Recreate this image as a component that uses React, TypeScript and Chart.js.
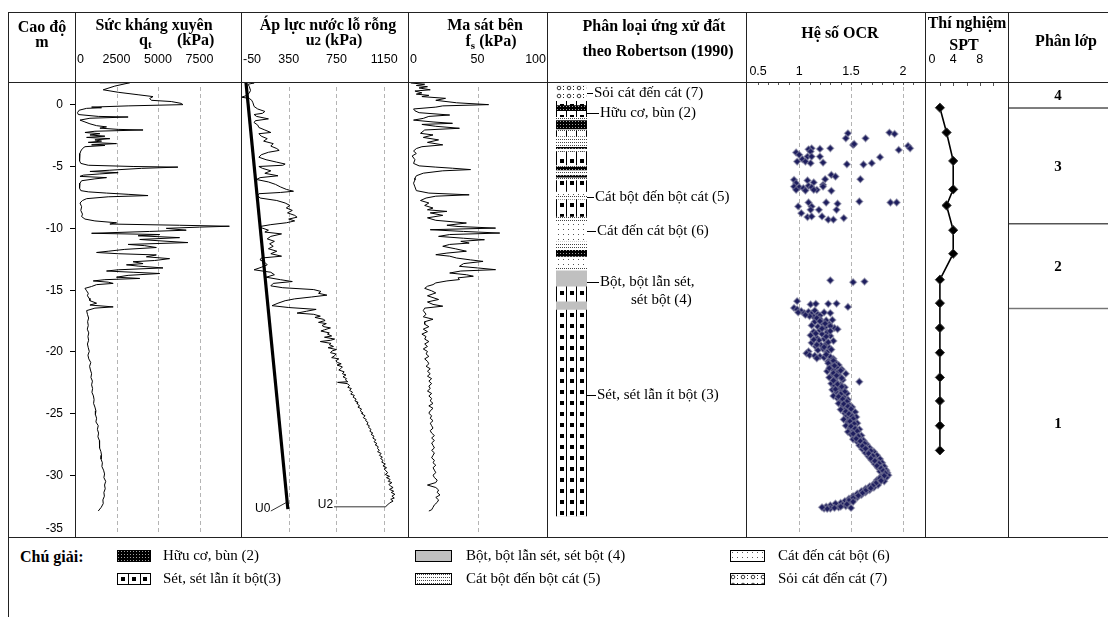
import React, { useEffect, useRef } from "react";
import { Chart, registerables } from "chart.js";
Chart.register(...registerables);

// ---------------- data ----------------
const depthRange = [-35, 1.78];
const depthTicks = [0, -5, -10, -15, -20, -25, -30, -35];

const qtRange = [0, 10000];
const qtTicks = [0, 2500, 5000, 7500];
const u2Range = [-50, 1350];
const u2Ticks = [-50, 350, 750, 1150];
const fsRange = [0, 100];
const fsTicks = [0, 50, 100];
const ocrRange = [0.5, 2.2];
const ocrTicks = [0.5, 1, 1.5, 2];
const ocrMinorTicks = [0.6, 0.7, 0.8, 0.9, 1, 1.1, 1.2, 1.3, 1.4, 1.5, 1.6, 1.7, 1.8, 1.9, 2, 2.1];
const sptRange = [0, 12];
const sptTicks = [0, 4, 8];
const sptMinorTicks = [2, 4, 6, 8, 10];

// [depth (m), qt (kPa)]
const qtData = [
  [1.72, 1500], [1.72, 3300], [1.45, 2400], [1.15, 1700], [0.95, 2600], [0.75, 3800], [0.6, 4700], [0.45, 4500],
  [0.3, 4600], [0.2, 5800], [0.05, 6400], [-0.05, 6500], [-0.15, 3200], [-0.25, 1000], [-0.3, 1600], [-0.35, 700],
  [-0.5, 250], [-0.7, 150], [-0.85, 200], [-1.0, 1400], [-1.05, 3200], [-1.15, 900], [-1.3, 300], [-1.45, 600],
  [-1.6, 900], [-1.75, 1300], [-1.85, 1900], [-1.95, 1500], [-2.05, 2600], [-2.1, 4100], [-2.2, 1200], [-2.3, 600],
  [-2.4, 1500], [-2.5, 900], [-2.6, 1800], [-2.7, 700], [-2.8, 2100], [-2.9, 1200], [-3.0, 1600], [-3.1, 800],
  [-3.2, 2500], [-3.3, 1000], [-3.35, 1800], [-3.45, 600], [-3.6, 450], [-3.8, 350], [-4.0, 300], [-4.3, 250],
  [-4.6, 300], [-4.8, 350], [-4.95, 800], [-5.05, 3500], [-5.1, 6200], [-5.2, 4000], [-5.35, 2100], [-5.45, 900],
  [-5.55, 2600], [-5.65, 1500], [-5.75, 500], [-5.85, 300], [-5.95, 1900], [-6.05, 1200], [-6.2, 400], [-6.4, 300],
  [-6.6, 250], [-6.8, 300], [-7.0, 350], [-7.1, 800], [-7.2, 1900], [-7.3, 3200], [-7.4, 4400], [-7.5, 2000],
  [-7.65, 700], [-7.8, 450], [-8.0, 300], [-8.3, 400], [-8.6, 350], [-8.9, 450], [-9.1, 400], [-9.3, 600],
  [-9.45, 1200], [-9.6, 2500], [-9.7, 2100], [-9.8, 6300], [-9.88, 9300], [-9.95, 7500], [-10.05, 5500], [-10.2, 6700],
  [-10.3, 4500], [-10.45, 1000], [-10.55, 5100], [-10.65, 3800], [-10.8, 6300], [-10.95, 3900], [-11.05, 5000],
  [-11.2, 6800], [-11.35, 3200], [-11.45, 4200], [-11.6, 4900], [-11.75, 3000], [-11.9, 2000], [-12.0, 1300],
  [-12.1, 2600], [-12.2, 4900], [-12.35, 4300], [-12.5, 5700], [-12.65, 4800], [-12.75, 3500], [-12.9, 4100],
  [-13.0, 3100], [-13.1, 3800], [-13.25, 5300], [-13.4, 2600], [-13.5, 1900], [-13.6, 3500], [-13.7, 5100],
  [-13.85, 3200], [-14.0, 2500], [-14.1, 3900], [-14.2, 1800], [-14.3, 1100], [-14.4, 2000], [-14.5, 2300],
  [-14.6, 1300], [-14.75, 1000], [-14.9, 600], [-15.1, 700], [-15.3, 800], [-15.5, 750], [-15.7, 850], [-15.9, 900],
  [-16.1, 1300], [-16.25, 900], [-16.4, 2300], [-16.5, 1200], [-16.7, 700], [-17.0, 750], [-17.3, 820], [-17.6, 760],
  [-17.9, 800], [-18.2, 740], [-18.5, 830], [-18.8, 780], [-19.1, 820], [-19.4, 750], [-19.7, 800], [-20.0, 860],
  [-20.3, 780], [-20.6, 830], [-20.9, 950], [-21.2, 880], [-21.5, 930], [-21.8, 1000], [-22.1, 960], [-22.4, 1050],
  [-22.7, 1000], [-23.0, 1060], [-23.3, 1020], [-23.6, 1110], [-23.9, 1150], [-24.2, 1120], [-24.5, 1200],
  [-24.8, 1260], [-25.1, 1230], [-25.4, 1300], [-25.7, 1260], [-26.0, 1400], [-26.3, 1350], [-26.6, 1420],
  [-26.9, 1380], [-27.2, 1470], [-27.5, 1500], [-27.8, 1460], [-28.1, 1560], [-28.4, 1600], [-28.7, 1570],
  [-29.0, 1650], [-29.3, 1620], [-29.6, 1720], [-29.9, 1780], [-30.2, 1740], [-30.5, 1850], [-30.8, 1780],
  [-31.1, 1820], [-31.4, 1740], [-31.7, 1770], [-32.0, 1680], [-32.3, 1700], [-32.6, 1580], [-32.9, 1400],
];

// [depth, u0]
const u0Data = [[1.9, -10], [-32.75, 343]];

// [depth, u2]
const u2Data = [
  [1.8, 0], [1.7, 60], [1.6, 10], [1.4, 20], [1.1, 30], [0.9, 20], [0.7, 0], [0.55, -45], [0.45, 20], [0.3, 40],
  [0.1, 50], [-0.2, 60], [-0.4, 90], [-0.6, 150], [-0.75, 130], [-0.85, 60], [-1.0, 80], [-1.2, 180], [-1.35, 70],
  [-1.5, 60], [-1.7, 90], [-1.9, 100], [-2.1, 150], [-2.3, 200], [-2.4, 100], [-2.6, 120], [-2.8, 170], [-3.0, 140],
  [-3.2, 220], [-3.4, 200], [-3.6, 250], [-3.75, 270], [-3.9, 180], [-4.1, 120], [-4.3, 100], [-4.5, 160],
  [-4.7, 250], [-4.85, 320], [-4.95, 300], [-5.05, 100], [-5.2, 130], [-5.4, 200], [-5.6, 150], [-5.8, 260],
  [-5.95, 110], [-6.1, 80], [-6.3, 180], [-6.5, 240], [-6.7, 280], [-6.9, 330], [-7.05, 390], [-7.15, 280],
  [-7.25, 100], [-7.4, 90], [-7.6, 110], [-7.8, 250], [-8.0, 320], [-8.2, 360], [-8.4, 330], [-8.6, 380],
  [-8.8, 340], [-9.0, 400], [-9.15, 420], [-9.3, 350], [-9.45, 400], [-9.6, 330], [-9.75, 200], [-9.9, 110],
  [-10.0, 120], [-10.2, 180], [-10.35, 150], [-10.5, 290], [-10.7, 200], [-10.9, 170], [-11.1, 230], [-11.3, 190],
  [-11.5, 220], [-11.7, 180], [-11.9, 250], [-12.1, 200], [-12.3, 290], [-12.45, 120], [-12.6, 110], [-12.8, 150],
  [-13.0, 170], [-13.2, 120], [-13.4, 60], [-13.6, 200], [-13.8, 230], [-14.0, 160], [-14.2, 280], [-14.35, 380],
  [-14.5, 220], [-14.7, 200], [-14.85, 300], [-15.0, 560], [-15.15, 620], [-15.3, 600], [-15.45, 670], [-15.6, 540],
  [-15.75, 400], [-15.9, 320], [-16.1, 260], [-16.3, 210], [-16.45, 350], [-16.6, 580], [-16.75, 500], [-16.9, 420],
  [-17.0, 560], [-17.15, 615], [-17.25, 570], [-17.4, 640], [-17.5, 655], [-17.65, 600], [-17.75, 665], [-17.9, 630],
  [-18.0, 645], [-18.1, 700], [-18.25, 650], [-18.35, 620], [-18.5, 690], [-18.6, 675], [-18.75, 710], [-18.85, 650],
  [-19.0, 735], [-19.1, 700], [-19.2, 615], [-19.35, 705], [-19.45, 690], [-19.6, 725], [-19.7, 680], [-19.85, 750],
  [-19.95, 715], [-20.1, 700], [-20.2, 745], [-20.35, 735], [-20.5, 710], [-20.6, 770], [-20.75, 745], [-20.9, 760],
  [-21.0, 790], [-21.1, 755], [-21.25, 800], [-21.4, 785], [-21.5, 770], [-21.65, 815], [-21.8, 800], [-21.9, 830],
  [-22.05, 805], [-22.2, 835], [-22.3, 825], [-22.45, 845], [-22.5, 760], [-22.6, 840], [-22.75, 860], [-22.9, 845],
  [-23.0, 875], [-23.15, 860], [-23.3, 885], [-23.45, 870], [-23.55, 900], [-23.7, 890], [-23.85, 915], [-24.0, 905],
  [-24.1, 930], [-24.25, 925], [-24.4, 945], [-24.5, 930], [-24.65, 960], [-24.8, 950], [-24.95, 970], [-25.05, 965],
  [-25.2, 990], [-25.35, 975], [-25.5, 1000], [-25.6, 995], [-25.75, 1015], [-25.9, 1005], [-26.0, 1025],
  [-26.15, 1020], [-26.3, 1040], [-26.45, 1030], [-26.6, 1055], [-26.7, 1040], [-26.85, 1065], [-27.0, 1055],
  [-27.15, 1080], [-27.3, 1065], [-27.45, 1090], [-27.55, 1075], [-27.7, 1100], [-27.85, 1095], [-28.0, 1110],
  [-28.1, 1095], [-28.25, 1125], [-28.4, 1110], [-28.55, 1135], [-28.65, 1120], [-28.8, 1140], [-28.95, 1130],
  [-29.1, 1160], [-29.25, 1140], [-29.4, 1170], [-29.5, 1150], [-29.65, 1165], [-29.8, 1180], [-29.95, 1160],
  [-30.1, 1195], [-30.2, 1170], [-30.35, 1200], [-30.5, 1185], [-30.6, 1215], [-30.75, 1190], [-30.9, 1205],
  [-31.0, 1225], [-31.15, 1195], [-31.3, 1230], [-31.4, 1210], [-31.55, 1240], [-31.7, 1215], [-31.85, 1235],
  [-31.95, 1205], [-32.1, 1225], [-32.25, 1195], [-32.4, 1180], [-32.56, 1160],
];
const curveLabels = ["U0", "U2"];
const curveLabelAt = [[-32.7, 197], [-32.35, 722]]; // [depth, u]
const u0Leader = [[-32.9, 200], [-32.2, 332]];
const u2Leader = [[-32.56, 730], [-32.56, 1160]];

// [depth, fs]
const fsData = [
  [1.7, 2], [1.6, 12], [1.5, 6], [1.4, 14], [1.3, 8], [1.15, 16], [1.05, 5], [0.9, 10], [0.8, 6], [0.7, 15], [0.6, 10],
  [0.46, 27], [0.3, 20], [0.1, 35], [-0.05, 58], [-0.15, 25], [-0.25, 20], [-0.4, 4], [-0.55, 5], [-0.7, 8],
  [-0.89, 30], [-1.0, 15], [-1.16, 11], [-1.3, 4], [-1.45, 18], [-1.56, 32], [-1.65, 10], [-1.8, 20], [-1.96, 37],
  [-2.1, 12], [-2.37, 9], [-2.5, 18], [-2.7, 11], [-2.9, 22], [-3.1, 14], [-3.3, 25], [-3.45, 10], [-3.6, 6],
  [-3.8, 4], [-4.0, 6], [-4.2, 3], [-4.5, 5], [-4.8, 4], [-5.0, 8], [-5.1, 20], [-5.19, 32], [-5.3, 45], [-5.4, 25],
  [-5.59, 11], [-5.8, 6], [-6.0, 5], [-6.13, 5], [-6.4, 4], [-6.7, 5], [-7.0, 6], [-7.2, 15], [-7.34, 44],
  [-7.45, 20], [-7.6, 13], [-7.8, 9], [-8.0, 15], [-8.2, 12], [-8.41, 18], [-8.55, 14], [-8.68, 28], [-8.8, 16],
  [-9.0, 25], [-9.2, 14], [-9.4, 20], [-9.62, 42], [-9.8, 28], [-9.9, 36], [-10.03, 63], [-10.16, 16], [-10.3, 40],
  [-10.43, 66], [-10.55, 30], [-10.7, 22], [-10.85, 40], [-10.97, 55], [-11.1, 38], [-11.24, 44], [-11.35, 30],
  [-11.5, 25], [-11.7, 34], [-11.9, 42], [-12.05, 28], [-12.18, 20], [-12.3, 30], [-12.45, 35], [-12.6, 45],
  [-12.72, 54], [-12.9, 40], [-13.12, 37], [-13.25, 50], [-13.39, 63], [-13.5, 38], [-13.66, 30], [-13.8, 42],
  [-13.92, 47], [-14.05, 36], [-14.19, 37], [-14.3, 28], [-14.46, 20], [-14.6, 18], [-14.73, 14], [-14.9, 12],
  [-15.1, 17], [-15.27, 20], [-15.5, 14], [-15.8, 22], [-16.0, 14], [-16.2, 18], [-16.34, 25], [-16.5, 12],
  [-16.7, 11], [-17.0, 13], [-17.2, 11], [-17.4, 18], [-17.6, 12], [-17.8, 12], [-18.0, 15], [-18.2, 11],
  [-18.4, 14], [-18.6, 10], [-18.8, 13], [-19.0, 12], [-19.2, 15], [-19.4, 12], [-19.6, 14], [-19.8, 11],
  [-20.0, 14], [-20.2, 13], [-20.4, 15], [-20.6, 12], [-20.8, 14], [-21.0, 15], [-21.2, 13], [-21.4, 16],
  [-21.6, 14], [-21.8, 16], [-22.0, 14], [-22.2, 17], [-22.4, 15], [-22.6, 17], [-22.8, 15], [-23.0, 16],
  [-23.2, 14], [-23.4, 17], [-23.6, 15], [-23.8, 17], [-24.0, 16], [-24.2, 18], [-24.4, 15], [-24.6, 18],
  [-24.8, 16], [-25.0, 15], [-25.2, 17], [-25.4, 16], [-25.6, 18], [-25.8, 16], [-26.0, 17], [-26.2, 18],
  [-26.4, 16], [-26.6, 17], [-26.8, 19], [-27.0, 17], [-27.2, 19], [-27.4, 17], [-27.6, 18], [-27.8, 19],
  [-28.0, 17], [-28.2, 19], [-28.4, 18], [-28.6, 17], [-28.8, 19], [-29.0, 18], [-29.2, 20], [-29.4, 18],
  [-29.6, 19], [-29.8, 20], [-30.0, 18], [-30.2, 19], [-30.4, 21], [-30.6, 20], [-30.8, 14], [-31.0, 20],
  [-31.2, 22], [-31.4, 21], [-31.6, 23], [-31.8, 20], [-32.0, 22], [-32.2, 21], [-32.4, 19], [-32.6, 18],
  [-32.8, 17], [-32.9, 15],
];

// [depth, OCR]
const ocrData = [
  [-2.37, 1.47], [-2.77, 1.45], [-3.31, 1.52], [-3.23, 1.53], [-2.77, 1.64], [-2.31, 1.87], [-2.42, 1.92],
  [-3.71, 1.96], [-3.39, 2.05], [-3.58, 2.07], [-4.3, 1.78], [-4.78, 1.7], [-4.89, 1.62], [-4.87, 1.46],
  [-3.58, 1.3], [-3.63, 1.2], [-3.58, 1.12], [-3.66, 1.09], [-3.84, 1.11], [-3.92, 0.97], [-4.11, 1.0],
  [-4.25, 1.08], [-4.25, 1.12], [-4.46, 1.03], [-4.65, 1.06], [-4.78, 1.11], [-4.65, 0.98], [-4.25, 1.2],
  [-4.73, 1.23],
  [-5.73, 1.31], [-5.86, 1.35], [-6.08, 1.25], [-6.13, 0.95], [-6.4, 0.97], [-6.18, 1.08], [-6.34, 1.14],
  [-6.53, 1.23], [-6.67, 0.95], [-6.72, 1.0], [-6.8, 1.04], [-6.61, 1.09], [-6.72, 1.12], [-6.94, 1.17],
  [-6.94, 0.97], [-6.99, 1.06], [-6.94, 1.14], [-7.02, 1.31], [-6.08, 1.59], [-6.67, 1.23],
  [-8.28, 0.99], [-7.96, 1.09], [-8.28, 1.12], [-8.55, 1.11], [-8.55, 1.19], [-7.96, 1.26], [-8.06, 1.37],
  [-8.55, 1.36], [-8.82, 1.02], [-9.14, 1.08], [-9.09, 1.12], [-9.09, 1.22], [-9.35, 1.28], [-9.35, 1.33],
  [-9.22, 1.43], [-7.88, 1.58], [-7.96, 1.88], [-7.96, 1.94],
  [-14.25, 1.3], [-14.4, 1.52], [-14.35, 1.63],
  [-15.94, 0.98], [-16.2, 1.11], [-16.15, 1.16], [-16.15, 1.28], [-16.13, 1.36], [-16.4, 1.47],
  [-16.48, 0.95], [-16.6, 0.98], [-16.75, 1.02], [-16.85, 0.99], [-16.9, 1.05], [-16.8, 1.09], [-16.95, 1.12],
  [-16.7, 1.15], [-17.0, 1.18], [-16.85, 1.24], [-16.9, 1.3], [-17.1, 1.2], [-17.2, 1.14], [-17.15, 1.1],
  [-17.4, 1.2], [-17.5, 1.26], [-17.45, 1.32], [-17.6, 1.15], [-17.7, 1.22], [-17.8, 1.29], [-17.9, 1.12],
  [-18.0, 1.18], [-18.05, 1.25], [-18.1, 1.34], [-18.2, 1.37], [-18.3, 1.2], [-18.4, 1.14], [-18.45, 1.27],
  [-18.6, 1.22], [-18.7, 1.11], [-18.75, 1.3], [-18.9, 1.17], [-19.0, 1.24], [-19.1, 1.19], [-19.15, 1.33],
  [-19.3, 1.12], [-19.4, 1.26], [-19.5, 1.21], [-19.6, 1.16], [-19.7, 1.29], [-19.8, 1.23], [-19.9, 1.18],
  [-20.0, 1.09], [-20.05, 1.27], [-20.15, 1.07], [-20.3, 1.1], [-20.35, 1.15], [-20.4, 1.2], [-20.5, 1.24],
  [-20.45, 1.3], [-20.6, 1.33],
  [-20.8, 1.28], [-20.9, 1.35], [-21.0, 1.31], [-21.1, 1.38], [-21.2, 1.3], [-21.3, 1.36], [-21.45, 1.41],
  [-21.5, 1.33], [-21.6, 1.27], [-21.7, 1.37], [-21.8, 1.45], [-21.9, 1.32], [-22.0, 1.39], [-22.1, 1.29],
  [-22.2, 1.35], [-22.3, 1.42], [-22.45, 1.58], [-22.5, 1.36], [-22.6, 1.31], [-22.7, 1.4], [-22.8, 1.34],
  [-22.9, 1.44], [-23.0, 1.38], [-23.1, 1.32], [-23.2, 1.41], [-23.3, 1.36], [-23.4, 1.46], [-23.5, 1.39],
  [-23.6, 1.33], [-23.7, 1.43], [-23.8, 1.37], [-23.9, 1.47], [-24.0, 1.4],
  [-24.1, 1.44], [-24.2, 1.38], [-24.3, 1.48], [-24.4, 1.42], [-24.5, 1.51], [-24.6, 1.45], [-24.7, 1.4],
  [-24.8, 1.49], [-24.9, 1.54], [-25.0, 1.44], [-25.1, 1.5], [-25.2, 1.46], [-25.3, 1.55], [-25.4, 1.48],
  [-25.5, 1.43], [-25.6, 1.52], [-25.7, 1.47], [-25.8, 1.56], [-25.9, 1.5], [-26.0, 1.45], [-26.1, 1.53],
  [-26.2, 1.49], [-26.3, 1.58], [-26.4, 1.52], [-26.5, 1.47], [-26.6, 1.55], [-26.7, 1.5], [-26.8, 1.6],
  [-26.9, 1.54], [-27.0, 1.58], [-27.1, 1.52], [-27.2, 1.62], [-27.3, 1.56], [-27.4, 1.6],
  [-27.5, 1.65], [-27.6, 1.58], [-27.7, 1.63], [-27.8, 1.68], [-27.9, 1.61], [-28.0, 1.66], [-28.1, 1.72],
  [-28.2, 1.64], [-28.3, 1.69], [-28.4, 1.75], [-28.5, 1.67], [-28.6, 1.72], [-28.7, 1.78], [-28.8, 1.7],
  [-28.9, 1.75], [-29.0, 1.8], [-29.1, 1.73], [-29.2, 1.78], [-29.3, 1.82], [-29.4, 1.76], [-29.5, 1.8],
  [-29.6, 1.84], [-29.7, 1.78], [-29.8, 1.85], [-29.9, 1.81], [-30.0, 1.86], [-30.1, 1.79], [-30.2, 1.84],
  [-30.3, 1.8], [-30.4, 1.75], [-30.5, 1.82], [-30.6, 1.77],
  [-30.7, 1.72], [-30.8, 1.76], [-30.9, 1.68], [-31.0, 1.72], [-31.1, 1.64], [-31.2, 1.68], [-31.3, 1.6],
  [-31.4, 1.64], [-31.5, 1.56], [-31.6, 1.6], [-31.7, 1.52], [-31.8, 1.56], [-31.9, 1.48], [-32.0, 1.52],
  [-32.1, 1.44], [-32.2, 1.48], [-32.25, 1.4], [-32.3, 1.35], [-32.4, 1.42], [-32.45, 1.3], [-32.5, 1.45],
  [-32.55, 1.26], [-32.6, 1.38], [-32.7, 1.3], [-32.65, 1.5], [-32.7, 1.24],
  [-17.05, 1.06], [-17.3, 1.17], [-17.55, 1.2], [-17.75, 1.25], [-17.95, 1.3], [-18.15, 1.22], [-18.35, 1.3],
  [-18.55, 1.16], [-18.8, 1.26], [-19.05, 1.14], [-19.25, 1.28], [-19.45, 1.17], [-19.65, 1.24], [-19.85, 1.31],
  [-20.25, 1.26], [-20.55, 1.17], [-20.75, 1.33], [-20.95, 1.28], [-21.15, 1.34], [-21.35, 1.29], [-21.55, 1.4],
  [-21.75, 1.33], [-21.95, 1.36], [-22.15, 1.41], [-22.35, 1.33], [-22.65, 1.37], [-22.85, 1.41], [-23.05, 1.35],
  [-23.25, 1.44], [-23.45, 1.4], [-23.65, 1.38], [-23.85, 1.42], [-24.05, 1.46], [-24.25, 1.43], [-24.45, 1.47],
  [-24.65, 1.5], [-24.85, 1.45], [-25.05, 1.48], [-25.25, 1.51], [-25.45, 1.52], [-25.65, 1.49], [-25.85, 1.53],
  [-26.05, 1.5], [-26.25, 1.54], [-26.45, 1.56], [-26.65, 1.52], [-26.85, 1.57], [-27.05, 1.55], [-27.25, 1.59],
  [-27.45, 1.63], [-27.65, 1.61], [-27.85, 1.64], [-28.05, 1.69], [-28.25, 1.67], [-28.45, 1.71], [-28.65, 1.69],
  [-28.85, 1.73], [-29.05, 1.77], [-29.25, 1.75], [-29.45, 1.79], [-29.65, 1.81], [-29.85, 1.83], [-30.05, 1.82],
  [-30.25, 1.78], [-30.45, 1.79], [-30.65, 1.74], [-30.85, 1.71], [-31.05, 1.69], [-31.25, 1.64], [-31.45, 1.61],
  [-31.65, 1.57], [-31.85, 1.52], [-32.05, 1.48], [-32.15, 1.52], [-32.35, 1.46], [-32.55, 1.4], [-32.65, 1.34],
  [-32.72, 1.27], [-32.6, 1.22],
];

const sptDepth = [-0.3, -2.3, -4.6, -6.9, -8.2, -10.2, -12.1, -14.2, -16.1, -18.1, -20.1, -22.1, -24.0, -26.0, -28.0];
const sptN = [2, 3, 4, 4, 3, 4, 4, 2, 2, 2, 2, 2, 2, 2, 2];

const layerNames = ["4", "3", "2", "1"];
const layerTop = [1.78, -0.32, -9.68, -16.53];
const layerBottom = [-0.32, -9.68, -16.53, -35];

// Robertson (1990) soil behaviour bands: [top, bottom, zone]
const soilBands = [
  [1.45, 0.27, 7], [0.27, -0.08, 3], [-0.08, -0.54, 2], [-0.54, -1.02, 3], [-1.02, -1.29, 5], [-1.29, -2.02, 2],
  [-2.02, -2.15, 5], [-2.15, -2.58, 3], [-2.58, -3.44, 5], [-3.44, -3.58, 2], [-3.58, -3.84, 5], [-3.84, -4.92, 3],
  [-4.92, -5.05, 5], [-5.05, -5.32, 2], [-5.32, -5.73, 5], [-5.73, -5.91, 2], [-5.91, -6.13, 5], [-6.13, -7.07, 3],
  [-7.07, -7.39, 6], [-7.39, -7.69, 5], [-7.69, -9.09, 3], [-9.09, -9.49, 5], [-9.49, -11.1, 6], [-11.1, -11.77, 5],
  [-11.77, -12.31, 2], [-12.31, -13.12, 6], [-13.12, -13.44, 5], [-13.44, -14.73, 4], [-14.73, -15.94, 3],
  [-15.94, -16.61, 4], [-16.61, -33.3, 3],
];
const soilLabelText = [
  ["Sỏi cát đến cát (7)"],
  ["Hữu cơ, bùn (2)"],
  ["Cát bột đến bột cát (5)"],
  ["Cát đến cát bột (6)"],
  ["Bột, bột lẫn sét,", "sét bột (4)"],
  ["Sét, sét lẫn ít bột (3)"],
];
const soilLabelDepth = [0.89, -0.73, -7.5, -10.3, -14.35, -23.5];

const legendZones = [2, 3, 4, 5, 6, 7];
const legendText = [
  "Hữu cơ, bùn (2)",
  "Sét, sét lẫn ít bột(3)",
  "Bột, bột lẫn sét, sét bột (4)",
  "Cát bột đến bột cát (5)",
  "Cát đến cát bột (6)",
  "Sỏi cát đến cát (7)",
];

// ---------------- layout ----------------
const CANVAS_TOP = 12;
const AREA_TOP = 82;
const AREA_BOTTOM = 537;
const CANVAS_BOTTOM = 548;
const SERIF = '"Liberation Serif", "Times New Roman", serif';
const SANS = '"Liberation Sans", Arial, sans-serif';
const soilLabelDx = [6, 12, 7, 9, 12, 9];

function pts(arr: number[][]) {
  return arr.map(([d, v]) => ({ x: v, y: d }));
}

function makePattern(zone: number, tx: number, ty: number): any {
  if (zone === 4) return "#c0c0c0";
  const c = document.createElement("canvas");
  const g = c.getContext("2d") as CanvasRenderingContext2D;
  if (zone === 2) {
    c.width = 3; c.height = 3;
    g.fillStyle = "#000"; g.fillRect(0, 0, 3, 3);
    g.fillStyle = "#a0a0a0"; g.fillRect(1, 1, 1, 1);
  } else if (zone === 3) {
    c.width = 10; c.height = 11;
    g.fillStyle = "#fff"; g.fillRect(0, 0, 10, 11);
    g.fillStyle = "#000"; g.fillRect(0, 0, 1, 11);
    g.fillRect(4, 4, 4, 4);
  } else if (zone === 5) {
    c.width = 2; c.height = 3;
    g.fillStyle = "#fff"; g.fillRect(0, 0, 2, 3);
    g.fillStyle = "#444"; g.fillRect(0, 1, 1, 1);
  } else if (zone === 6) {
    c.width = 5; c.height = 5;
    g.fillStyle = "#fff"; g.fillRect(0, 0, 5, 5);
    g.fillStyle = "#555"; g.fillRect(2, 2, 1, 1);
  } else {
    c.width = 10; c.height = 8;
    g.fillStyle = "#fff"; g.fillRect(0, 0, 10, 8);
    g.strokeStyle = "#222"; g.lineWidth = 0.9;
    g.beginPath(); g.arc(3, 4, 1.8, 0, Math.PI * 2); g.stroke();
    g.fillStyle = "#222"; g.fillRect(7, 2, 1, 1); g.fillRect(7, 5, 1, 1);
  }
  const p = g.createPattern(c, "repeat") as CanvasPattern;
  p.setTransform(new DOMMatrix([1, 0, 0, 1, tx, ty]));
  return p;
}

function baseOptions(xr: number[], ml: number, mr: number) {
  return {
    responsive: false,
    animation: false,
    devicePixelRatio: 1,
    events: [],
    layout: { padding: { left: ml, right: mr, top: AREA_TOP - CANVAS_TOP, bottom: CANVAS_BOTTOM - AREA_BOTTOM } },
    plugins: { legend: { display: false }, tooltip: { enabled: false } },
    scales: {
      x: { type: "linear", min: xr[0], max: xr[1], display: false },
      y: { type: "linear", min: depthRange[0], max: depthRange[1], display: false },
    },
  };
}

function decor(cfg: any) {
  return {
    id: "decor",
    beforeDatasetsDraw(chart: any) {
      const { ctx, chartArea: a } = chart;
      const xs = chart.scales.x;
      ctx.save();
      ctx.strokeStyle = "#b4b4b4";
      ctx.lineWidth = 1;
      ctx.setLineDash([4, 3]);
      (cfg.grid || []).forEach((v: number) => {
        const px = Math.round(xs.getPixelForValue(v)) + 0.5;
        ctx.beginPath();
        ctx.moveTo(px, a.top + 5);
        ctx.lineTo(px, a.bottom - 5);
        ctx.stroke();
      });
      ctx.restore();
    },
    afterDraw(chart: any) {
      const { ctx, chartArea: a } = chart;
      const xs = chart.scales.x;
      const ys = chart.scales.y;
      ctx.save();
      ctx.setLineDash([]);
      if (cfg.minor) {
        ctx.strokeStyle = "#555";
        ctx.lineWidth = 1;
        cfg.minor.forEach((v: number) => {
          const px = Math.round(xs.getPixelForValue(v)) + 0.5;
          ctx.beginPath();
          ctx.moveTo(px, a.top);
          ctx.lineTo(px, a.top + cfg.minorLen);
          ctx.stroke();
        });
      }
      if (cfg.ticks) {
        ctx.font = cfg.font || `12.5px ${SANS}`;
        ctx.fillStyle = "#000";
        ctx.textBaseline = "middle";
        cfg.ticks.forEach((v: number) => {
          const px = xs.getPixelForValue(v);
          let x = px;
          let align = "center";
          if (v === xs.min) { align = "left"; x = px + 2; }
          else if (v === xs.max) { align = "right"; x = px - 1; }
          ctx.textAlign = align;
          ctx.fillText(String(v), x, cfg.labelY - CANVAS_TOP);
        });
      }
      if (cfg.depth) {
        ctx.strokeStyle = "#000";
        ctx.lineWidth = 1;
        ctx.font = `12px ${SANS}`;
        ctx.fillStyle = "#000";
        ctx.textAlign = "right";
        ctx.textBaseline = "middle";
        depthTicks.forEach((v) => {
          const py = Math.round(ys.getPixelForValue(v)) + 0.5;
          ctx.beginPath();
          ctx.moveTo(a.left - 5, py);
          ctx.lineTo(a.left, py);
          ctx.stroke();
          const ly = Math.min(py, a.bottom - 8);
          ctx.fillText(String(v), a.left - 12, ly);
        });
      }
      ctx.restore();
    },
  };
}

const lineDs = (data: number[][], width = 1, color = "#000") => ({
  data: pts(data),
  showLine: true,
  borderColor: color,
  borderWidth: width,
  pointRadius: 0,
  tension: 0,
});

const qtConfig = (ml: number, mr: number) => ({
  type: "scatter",
  data: { datasets: [lineDs(qtData)] },
  options: baseOptions(qtRange, ml, mr),
  plugins: [decor({ ticks: qtTicks, labelY: 60, grid: [2500, 5000, 7500], depth: true })],
});

const u2Config = (ml: number, mr: number) => ({
  type: "scatter",
  data: {
    datasets: [
      lineDs(u2Data),
      lineDs(u0Data, 3.2),
      lineDs(u0Leader, 1, "#333"),
      lineDs(u2Leader, 1, "#333"),
    ],
  },
  options: baseOptions(u2Range, ml, mr),
  plugins: [
    decor({ ticks: u2Ticks, labelY: 60, grid: [350, 750, 1150] }),
    {
      id: "curveLabels",
      afterDraw(chart: any) {
        const { ctx } = chart;
        const xs = chart.scales.x, ys = chart.scales.y;
        ctx.save();
        ctx.font = `12px ${SANS}`;
        ctx.fillStyle = "#000";
        ctx.textAlign = "right";
        ctx.textBaseline = "middle";
        curveLabels.forEach((t, i) => {
          ctx.fillText(t, xs.getPixelForValue(curveLabelAt[i][1]), ys.getPixelForValue(curveLabelAt[i][0]));
        });
        ctx.restore();
      },
    },
  ],
});

const fsConfig = (ml: number, mr: number) => ({
  type: "scatter",
  data: { datasets: [lineDs(fsData)] },
  options: baseOptions(fsRange, ml, mr),
  plugins: [decor({ ticks: fsTicks, labelY: 60, grid: [50] })],
});

const ocrConfig = (ml: number, mr: number) => ({
  type: "scatter",
  data: {
    datasets: [
      {
        data: pts(ocrData),
        pointStyle: "rectRot",
        pointRadius: 3.4,
        pointBackgroundColor: "#1d1d5e",
        pointBorderColor: "rgba(125,125,155,0.55)",
        pointBorderWidth: 1.4,
        showLine: false,
      },
    ],
  },
  options: baseOptions(ocrRange, ml, mr),
  plugins: [decor({ ticks: ocrTicks, labelY: 72, grid: [1, 1.5, 2], minor: ocrMinorTicks, minorLen: 3 })],
});

const sptConfig = (ml: number, mr: number) => ({
  type: "scatter",
  data: {
    datasets: [
      {
        data: sptDepth.map((d, i) => ({ x: sptN[i], y: d })),
        showLine: true,
        borderColor: "#000",
        borderWidth: 1.6,
        pointStyle: "rectRot",
        pointRadius: 4.6,
        pointBackgroundColor: "#000",
        pointBorderColor: "#333",
        pointBorderWidth: 1,
        tension: 0,
      },
    ],
  },
  options: baseOptions(sptRange, ml, mr),
  plugins: [decor({ ticks: sptTicks, labelY: 60, minor: sptMinorTicks, minorLen: 4 })],
});

const layerConfig = (ml: number, mr: number) => {
  const o: any = baseOptions([0, 1], ml, mr);
  o.scales.x = { type: "category", display: false };
  return {
    type: "bar",
    data: {
      labels: ["L"],
      datasets: layerNames.map((_, i) => ({
        data: [[layerBottom[i], layerTop[i]]],
        backgroundColor: "#fff",
        borderColor: "#555",
        borderWidth: { top: 1, bottom: i === layerNames.length - 1 ? 0 : 1, left: 0, right: 0 },
        borderSkipped: false,
        barPercentage: 1,
        categoryPercentage: 1,
        grouped: false,
      })),
    },
    options: o,
    plugins: [
      {
        id: "layerLabels",
        afterDraw(chart: any) {
          const { ctx } = chart;
          ctx.save();
          ctx.font = `bold 15px ${SERIF}`;
          ctx.fillStyle = "#000";
          ctx.textAlign = "center";
          ctx.textBaseline = "middle";
          layerNames.forEach((n, i) => {
            const el = chart.getDatasetMeta(i).data[0];
            ctx.fillText(n, el.x, (el.y + el.base) / 2 + 1);
          });
          ctx.restore();
        },
      },
    ],
  };
};

const soilConfig = (ml: number, mr: number) => {
  const o: any = baseOptions([0, 1], ml, mr);
  o.scales.x = { type: "category", display: false };
  return {
    type: "bar",
    data: {
      labels: ["R"],
      datasets: [
        ...soilBands.map((b) => ({
          data: [[b[1], b[0]]],
          backgroundColor: makePattern(b[2], ml, 0),
          borderWidth: 0,
          barPercentage: 1,
          categoryPercentage: 1,
          grouped: false,
        })),
        {
          data: [[soilBands[soilBands.length - 1][1], soilBands[0][0]]],
          backgroundColor: "rgba(0,0,0,0)",
          borderColor: "#000",
          borderWidth: 1,
          borderSkipped: false,
          barPercentage: 1,
          categoryPercentage: 1,
          grouped: false,
        },
      ],
    },
    options: o,
    plugins: [
      {
        id: "soilLabels",
        afterDraw(chart: any) {
          const { ctx, chartArea: a } = chart;
          const ys = chart.scales.y;
          ctx.save();
          ctx.font = `15px ${SERIF}`;
          ctx.fillStyle = "#000";
          ctx.strokeStyle = "#000";
          ctx.lineWidth = 1;
          ctx.textAlign = "left";
          ctx.textBaseline = "middle";
          soilLabelText.forEach((lines, i) => {
            const py = Math.round(ys.getPixelForValue(soilLabelDepth[i])) + 0.5;
            const dx = soilLabelDx[i];
            ctx.beginPath();
            ctx.moveTo(a.right, py);
            ctx.lineTo(a.right + dx, py);
            ctx.stroke();
            ctx.fillText(lines[0], a.right + dx + 1, py);
            if (lines[1]) ctx.fillText(lines[1], a.right + dx + 32, py + 18);
          });
          ctx.restore();
        },
      },
    ],
  };
};

function ChartBox({ x0, x1, ml, mr, make }: any) {
  const ref = useRef<HTMLCanvasElement | null>(null);
  useEffect(() => {
    const chart = new Chart(ref.current as HTMLCanvasElement, make(ml, mr) as any);
    return () => chart.destroy();
  }, []);
  const w = x1 - x0 + ml + mr;
  const h = CANVAS_BOTTOM - CANVAS_TOP;
  return (
    <canvas
      ref={ref}
      width={w}
      height={h}
      style={{ position: "absolute", left: x0 - ml, top: CANVAS_TOP, width: w, height: h }}
    />
  );
}

function Swatch({ x, y, w, h, zone }: any) {
  const ref = useRef<HTMLCanvasElement | null>(null);
  useEffect(() => {
    const c = ref.current as HTMLCanvasElement;
    const g = c.getContext("2d") as CanvasRenderingContext2D;
    g.clearRect(0, 0, w, h);
    if (zone === 3) {
      g.fillStyle = "#fff";
      g.fillRect(0, 0, w, h);
      const cw = w / 3;
      g.fillStyle = "#000";
      for (let k = 0; k < 3; k++) {
        g.fillRect(Math.round(k * cw + cw / 2 - 2), Math.round(h / 2 - 2), 4, 4);
        if (k > 0) g.fillRect(Math.round(k * cw), 0, 1, h);
      }
    } else {
      g.fillStyle = makePattern(zone, 0, 0);
      g.fillRect(0, 0, w, h);
    }
    g.strokeStyle = "#000";
    g.lineWidth = 1;
    g.strokeRect(0.5, 0.5, w - 1, h - 1);
  }, []);
  return <canvas ref={ref} width={w} height={h} style={{ position: "absolute", left: x, top: y }} />;
}

function Txt({ x, b, fs, bold, align, children }: any) {
  const top = b - 0.891 * fs + (1.107 * fs - fs) / 2;
  const style: any = {
    position: "absolute",
    top,
    fontFamily: SERIF,
    fontSize: fs,
    lineHeight: `${fs}px`,
    fontWeight: bold ? "bold" : "normal",
    whiteSpace: "nowrap",
    color: "#000",
  };
  if (align === "center") {
    style.left = x - 200;
    style.width = 400;
    style.textAlign = "center";
  } else {
    style.left = x;
  }
  return <div style={style}>{children}</div>;
}

const vLines = [75, 241, 408, 547, 746, 925, 1008];

export default function App() {
  const H = 16;
  return (
    <div style={{ position: "absolute", left: 0, top: 0, width: 1108, height: 617, background: "#fff", overflow: "hidden" }}>
      <ChartBox x0={75} x1={241} ml={67} mr={10} make={qtConfig} />
      <ChartBox x0={241} x1={408} ml={10} mr={10} make={u2Config} />
      <ChartBox x0={408} x1={547} ml={10} mr={4} make={fsConfig} />
      <ChartBox x0={556} x1={587} ml={9} mr={159} make={soilConfig} />
      <ChartBox x0={746} x1={925} ml={4} mr={4} make={ocrConfig} />
      <ChartBox x0={925} x1={1008} ml={4} mr={4} make={sptConfig} />
      <ChartBox x0={1008} x1={1108} ml={0} mr={0} make={layerConfig} />

      {/* frame */}
      <div style={{ position: "absolute", left: 8, top: 12, width: 1100, height: 1, background: "#222" }} />
      <div style={{ position: "absolute", left: 8, top: 82, width: 1100, height: 1, background: "#222" }} />
      <div style={{ position: "absolute", left: 8, top: 537, width: 1100, height: 1, background: "#222" }} />
      <div style={{ position: "absolute", left: 8, top: 12, width: 1, height: 605, background: "#222" }} />
      {vLines.map((x) => (
        <div key={x} style={{ position: "absolute", left: x, top: 12, width: 1, height: 526, background: "#222" }} />
      ))}

      {/* headers */}
      <Txt x={42} b={32} fs={H} bold align="center">Cao độ</Txt>
      <Txt x={42} b={47} fs={H} bold align="center">m</Txt>
      <Txt x={154} b={30} fs={H} bold align="center">Sức kháng xuyên</Txt>
      <Txt x={139} b={45} fs={H} bold>q<sub style={{ fontSize: 11, verticalAlign: "-3px" }}>t</sub></Txt>
      <Txt x={177} b={45} fs={H} bold>(kPa)</Txt>
      <Txt x={328} b={30} fs={H} bold align="center">Áp lực nước lỗ rỗng</Txt>
      <Txt x={334} b={45} fs={H} bold align="center">u<span style={{ fontSize: 13 }}>2</span> (kPa)</Txt>
      <Txt x={485} b={30} fs={H} bold align="center">Ma sát bên</Txt>
      <Txt x={491} b={46} fs={H} bold align="center">f<sub style={{ fontSize: 11, verticalAlign: "-3px" }}>s</sub> (kPa)</Txt>
      <Txt x={654} b={31} fs={H} bold align="center">Phân loại ứng xử đất</Txt>
      <Txt x={658} b={56} fs={H} bold align="center">theo Robertson (1990)</Txt>
      <Txt x={840} b={38} fs={H} bold align="center">Hệ số OCR</Txt>
      <Txt x={967} b={28} fs={H} bold align="center">Thí nghiệm</Txt>
      <Txt x={964} b={50} fs={H} bold align="center">SPT</Txt>
      <Txt x={1066} b={46} fs={H} bold align="center">Phân lớp</Txt>

      {/* legend */}
      <Txt x={20} b={562} fs={H} bold>Chú giải:</Txt>
      {legendZones.map((z, i) => {
        const col = Math.floor(i / 2);
        const row = i % 2;
        const sx = [117, 415, 730][col];
        const sw = [34, 37, 35][col];
        const tx = [163, 466, 778][col];
        const sy = row === 0 ? 550 : 573;
        return (
          <React.Fragment key={z}>
            <Swatch x={sx} y={sy} w={sw} h={12} zone={z} />
            <Txt x={tx} b={row === 0 ? 561 : 584} fs={15}>{legendText[i]}</Txt>
          </React.Fragment>
        );
      })}
    </div>
  );
}
